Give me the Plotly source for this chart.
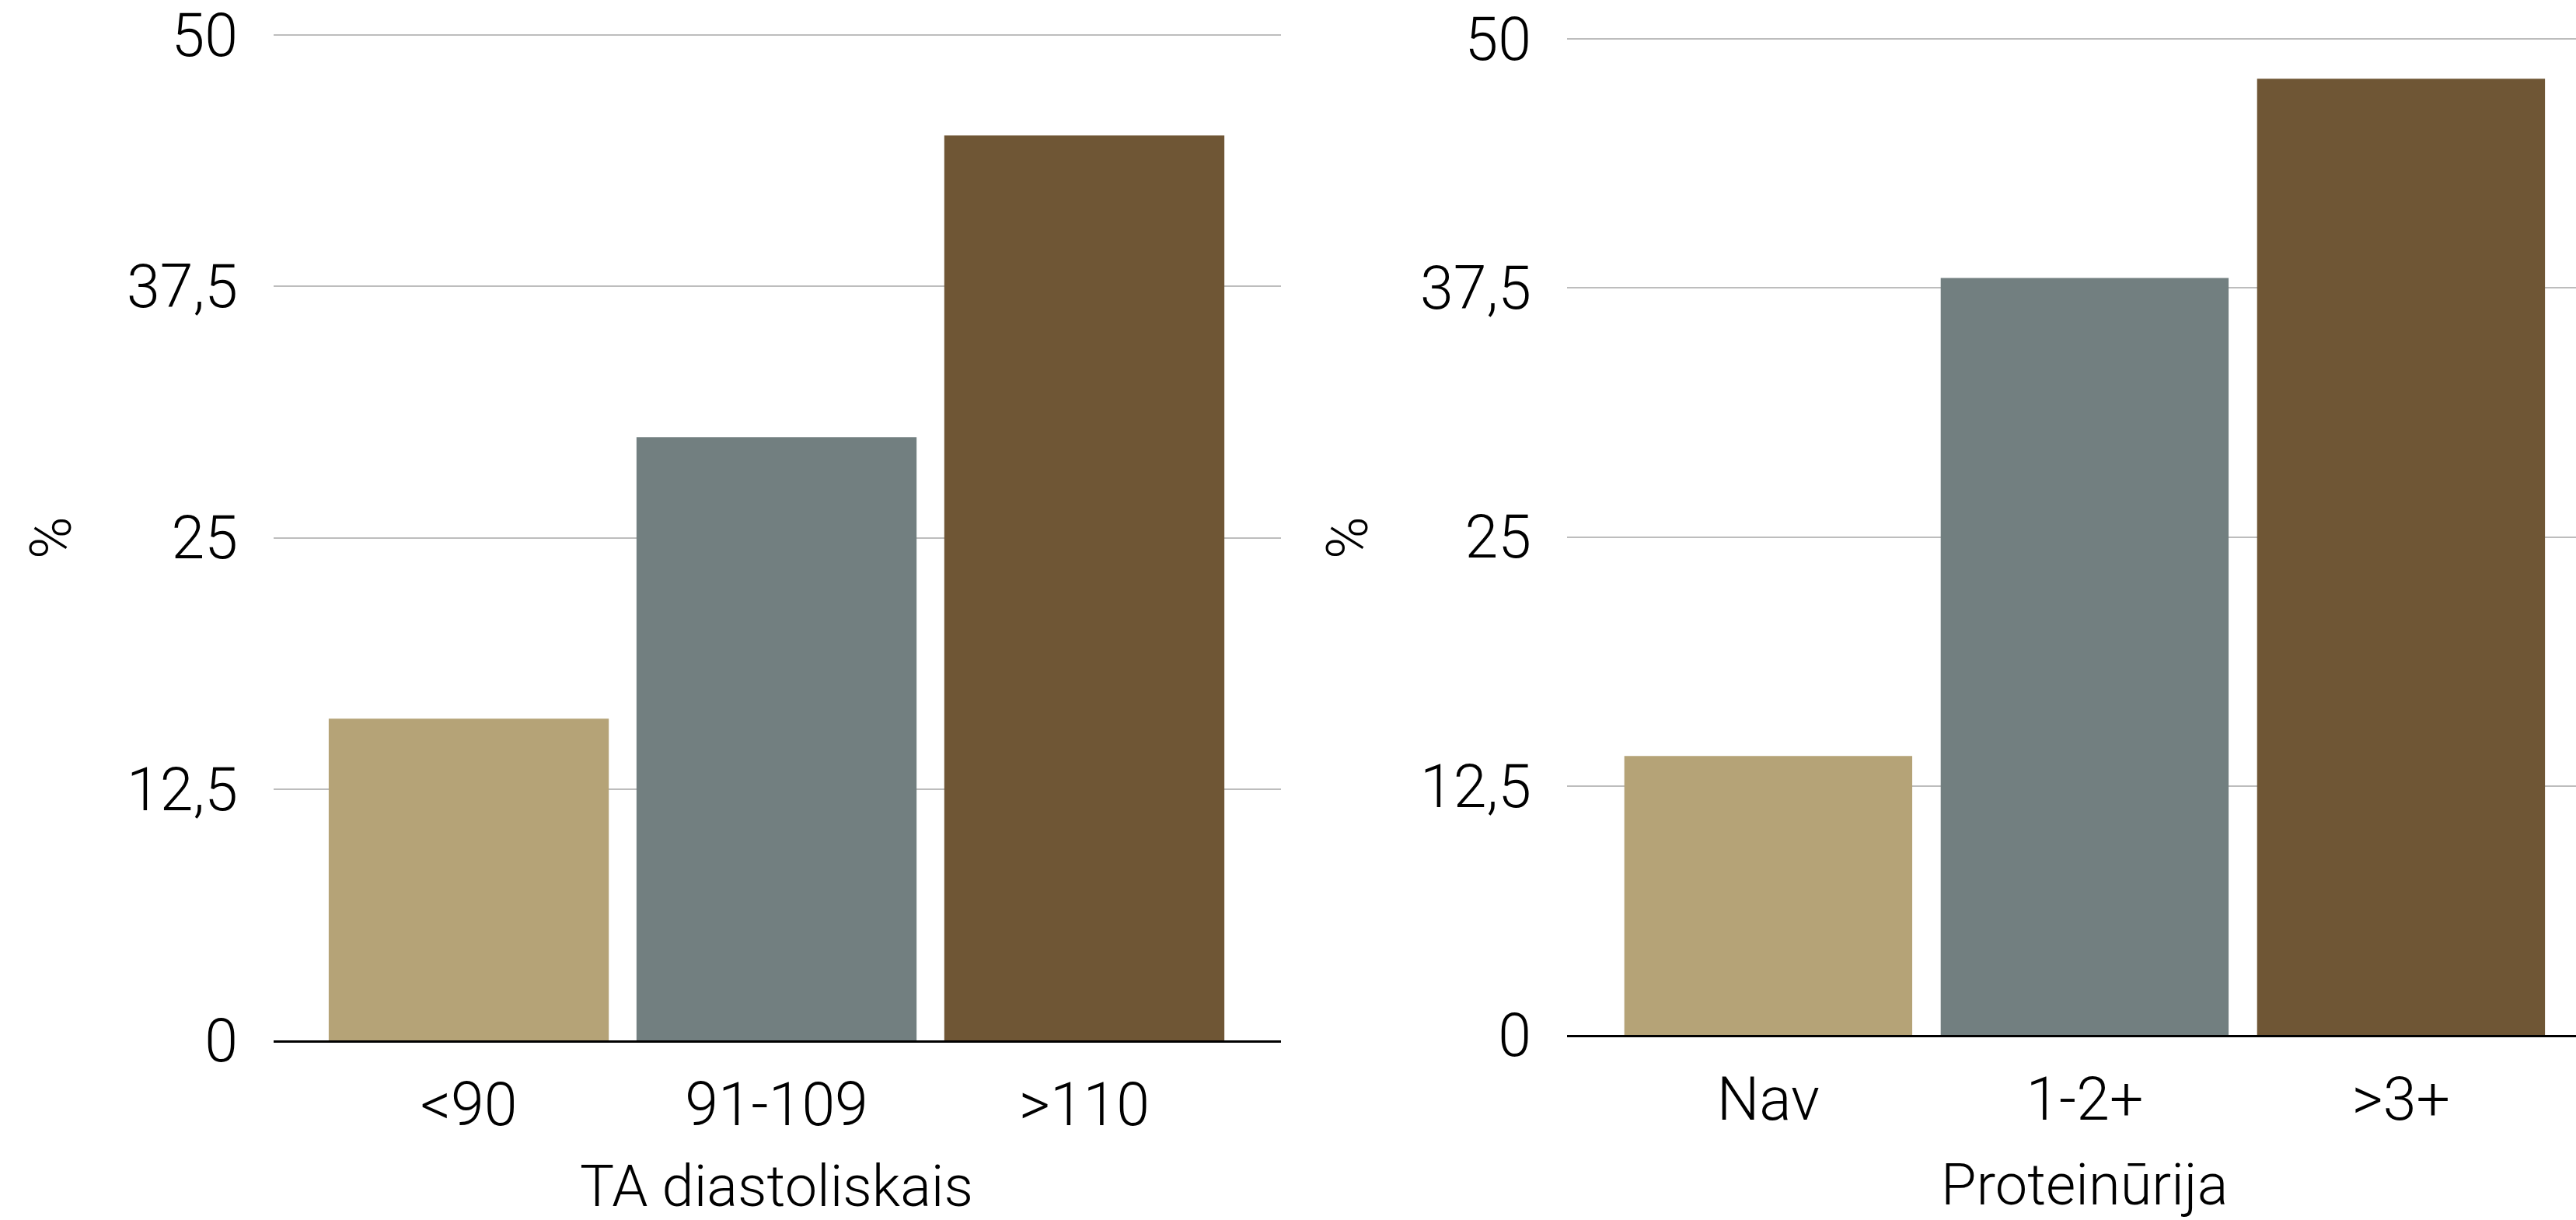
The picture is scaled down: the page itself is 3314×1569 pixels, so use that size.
import plotly.graph_objects as go

# Data
left_categories = ["<90", "91-109", ">110"]
left_values = [16, 30, 45]
left_title = "TA diastoliskais"

right_categories = ["Nav", "1-2+", ">3+"]
right_values = [14, 38, 48]
right_title = "Proteinūrija"

y_ticks = [0, 12.5, 25, 37.5, 50]
y_ticktext = ["0", "12,5", "25", "37,5", "50"]
y_title = "%"

bar_colors = ["#B5A377", "#727F80", "#6F5635"]

FONT = "Roboto"
FS = 74
TFS = 77
H = 1569
W = 3314

fig = go.Figure()
fig.add_trace(go.Bar(x=left_categories, y=left_values, marker=dict(color=bar_colors, line=dict(width=0)),
                     width=0.91, xaxis="x", yaxis="y", showlegend=False))
fig.add_trace(go.Bar(x=right_categories, y=right_values, marker=dict(color=bar_colors, line=dict(width=0)),
                     width=0.91, xaxis="x2", yaxis="y2", showlegend=False))

xcommon = dict(type="category", showline=True, linecolor="black", linewidth=2.5, showgrid=False,
               zeroline=False, ticks="", ticklabelstandoff=14, automargin=False,
               tickfont=dict(family=FONT, size=TFS, color="black", weight=300))
ycommon = dict(range=[0, 50.3], tickvals=y_ticks, ticktext=y_ticktext, showgrid=True, gridcolor="#BDBDBD",
               gridwidth=2, showline=False, zeroline=False, ticks="", ticklabelstandoff=45, automargin=False,
               tickfont=dict(family=FONT, size=TFS, color="black", weight=300))

# pixel positions of value 0 and 50 for each panel (top-left origin)
l_y0, l_y50 = 1338, 45
r_y0, r_y50 = 1331, 50
l_top = l_y50 - (l_y0 - l_y50) / 50 * 0.3
r_top = r_y50 - (r_y0 - r_y50) / 50 * 0.3

fig.update_layout(
    width=W, height=H,
    margin=dict(l=0, r=0, t=0, b=0, pad=0, autoexpand=False),
    paper_bgcolor="white", plot_bgcolor="white",
    xaxis=dict(domain=[352/W, 1648/W], range=[-0.634, 2.639], anchor="y", **xcommon),
    yaxis=dict(domain=[(H-l_y0)/H, (H-l_top)/H], anchor="x", **ycommon),
    xaxis2=dict(domain=[2016/W, 1.0], range=[-0.636, 2.553], anchor="y2", **xcommon),
    yaxis2=dict(domain=[(H-r_y0)/H, (H-r_top)/H], anchor="x2", **ycommon),
    annotations=[
        dict(text=left_title, x=1, xref="x", y=(H-1525)/H, yref="paper", showarrow=False,
             xanchor="center", yanchor="middle", font=dict(family=FONT, size=FS, color="black", weight=300)),
        dict(text=right_title, x=1, xref="x2", y=(H-1523)/H, yref="paper", showarrow=False,
             xanchor="center", yanchor="middle", font=dict(family=FONT, size=FS, color="black", weight=300)),
        dict(text=y_title, x=65/W, xref="paper", y=(H-692)/H, yref="paper", showarrow=False,
             textangle=-90, xanchor="center", yanchor="middle", font=dict(family=FONT, size=FS, color="black", weight=300)),
        dict(text=y_title, x=1733/W, xref="paper", y=(H-692)/H, yref="paper", showarrow=False,
             textangle=-90, xanchor="center", yanchor="middle", font=dict(family=FONT, size=FS, color="black", weight=300)),
    ],
)

fig.write_html("out.html")
